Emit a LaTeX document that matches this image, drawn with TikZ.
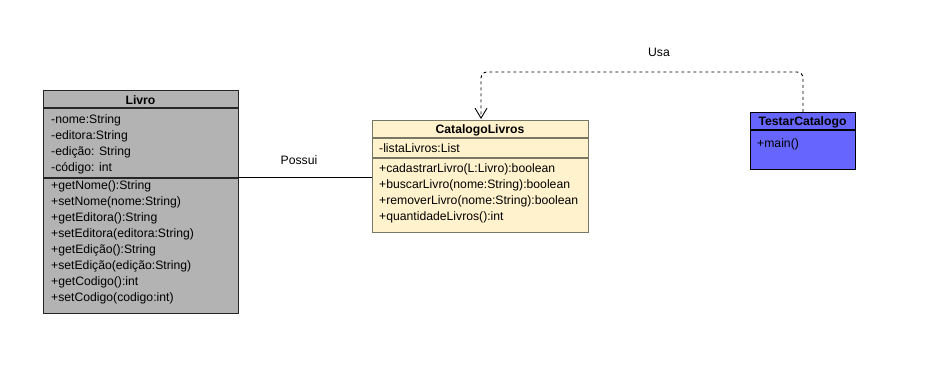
\documentclass[tikz,border=0pt]{standalone}
\usepackage{fontspec}
\setmainfont{Liberation Sans}
\usetikzlibrary{arrows.meta}
\begin{document}
\begin{tikzpicture}[x=1pt,y=-1pt,
  classbox/.style={draw=#1,line width=1.3pt,inner sep=0pt,anchor=north west},
  member/.style={anchor=west,inner sep=0pt,font=\fontsize{12.2}{14}\selectfont},
  title/.style={inner sep=0pt,font=\fontsize{12.2}{14}\selectfont\bfseries},
  sep/.style={draw=#1,line width=1.3pt},
  lbl/.style={inner sep=0pt,font=\fontsize{12.2}{14}\selectfont}]
\useasboundingbox (0,0) rectangle (945,387);
\definecolor{livrofill}{HTML}{B3B3B3}
\definecolor{catfill}{HTML}{FFF2CC}
\definecolor{catdraw}{HTML}{777766}
\definecolor{testfill}{HTML}{6666FF}

% Livro
\node[classbox=black!85,fill=livrofill,minimum width=195pt,minimum height=223pt] (livro) at (43,90) {};
\node[title] (livroT) at (140.5,100) {Livro};
\draw[sep=black!85] (43,108) -- (238,108);
\draw[sep=black!85] (43,178) -- (238,178);
\foreach \t [count=\i] in {-nome:String,-editora:String,-edição: String,-código: int}
  \node[member] (la\i) at (51,104.5+16*\i) {\t};
\foreach \t [count=\i] in {+getNome():String,+setNome(nome:String),+getEditora():String,+setEditora(editora:String),+getEdição():String,+setEdição(edição:String),+getCodigo():int,+setCodigo(codigo:int)}
  \node[member] (lm\i) at (51,170.5+16*\i) {\t};

% CatalogoLivros
\node[classbox=catdraw,fill=catfill,minimum width=216pt,minimum height=112pt] (cat) at (372,120) {};
\node[title] (catT) at (480,130) {CatalogoLivros};
\draw[sep=catdraw] (372,138) -- (588,138);
\draw[sep=catdraw] (372,158) -- (588,158);
\node[member] (ca1) at (379,148.5) {-listaLivros:List};
\foreach \t [count=\i] in {+cadastrarLivro(L:Livro):boolean,+buscarLivro(nome:String):boolean,+removerLivro(nome:String):boolean,+quantidadeLivros():int}
  \node[member] (cm\i) at (379,153.5+16*\i) {\t};

% TestarCatalogo
\node[classbox=black,fill=testfill,minimum width=105pt,minimum height=57pt] (test) at (750,112) {};
\node[title] (testT) at (802.5,122) {TestarCatalogo};
\draw[sep=black] (750,130) -- (855,130);
\node[member] (tm1) at (757,144.5) {+main()};

% Association Livro -- CatalogoLivros
\coordinate (pL) at (livro.east |- 0,177);
\coordinate (pC) at (cat.west |- 0,177);
\draw[line width=0.9pt] (pL) -- (pC);
\node[lbl] (possui) at (299,160) {Possui};

% Dependency TestarCatalogo -> CatalogoLivros
\coordinate (dT) at (803,112);
\coordinate (dC) at (481,119);
\draw[dashed,line width=0.9pt,rounded corners=6pt,-{Straight Barb[length=10pt,width=12pt,line width=0.9pt]}]
  (dT) -- (803,72) -- (481,72) -- (dC);
\node[lbl] (usa) at (659,52) {Usa};
\end{tikzpicture}
\end{document}
